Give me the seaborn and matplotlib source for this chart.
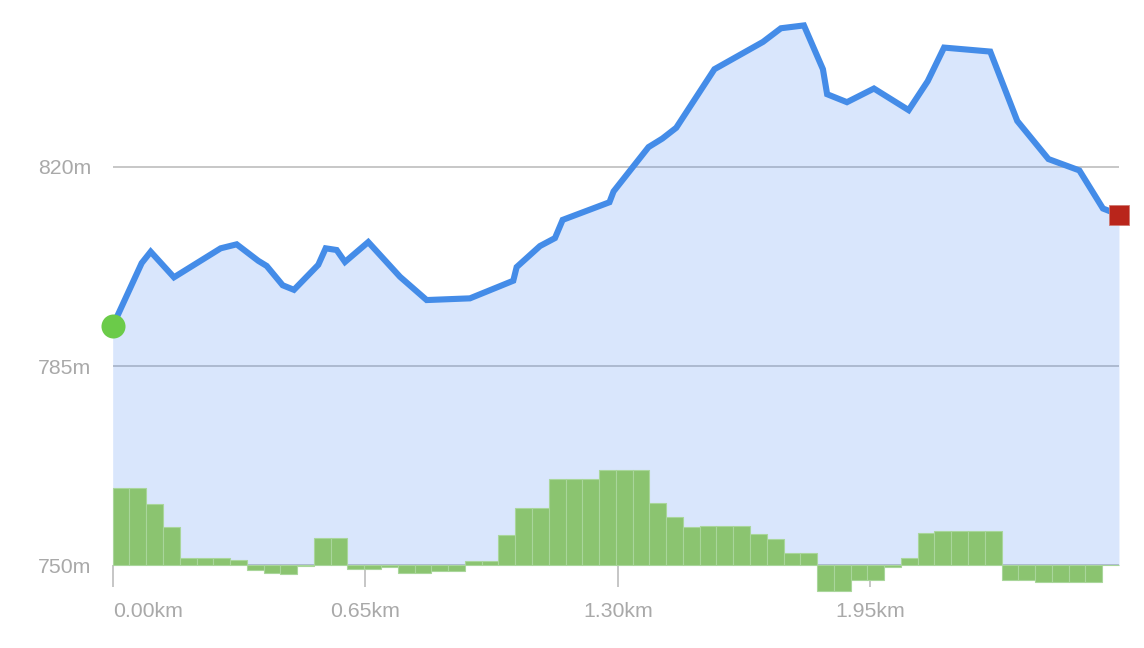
import numpy as np
import matplotlib
matplotlib.use("Agg")
import matplotlib.pyplot as plt
import seaborn as sns
import pandas as pd

# ---- data ----
dist_km = [0.000, 0.0746, 0.0978, 0.1577, 0.2779, 0.3191, 0.3747, 0.3963, 0.4375, 0.4665,
           0.5291, 0.5481, 0.5764, 0.5978, 0.6577, 0.7393, 0.8080, 0.9194, 1.0309, 1.0396,
           1.0996, 1.1382, 1.1580, 1.2784, 1.2890, 1.3790, 1.4146, 1.4503, 1.5486, 1.6735,
           1.7197, 1.7789, 1.8278, 1.8386, 1.8896, 1.9591, 2.0484, 2.0975, 2.1395, 2.2584,
           2.3279, 2.4081, 2.4877, 2.5484, 2.5896]
elev_m = [792.0, 803.1, 805.1, 800.6, 805.7, 806.4, 803.5, 802.6, 799.2, 798.4,
          802.8, 805.7, 805.4, 803.3, 806.8, 800.7, 796.6, 796.9, 800.0, 802.4,
          806.1, 807.5, 810.7, 813.8, 815.7, 823.5, 825.0, 826.9, 837.2, 842.0,
          844.4, 844.9, 837.2, 832.8, 831.4, 833.8, 830.0, 835.1, 841.0, 840.3,
          828.1, 821.4, 819.4, 812.7, 811.6]
grade = [13.5, 13.5, 10.7, 6.6, 1.2, 1.2, 1.2, 0.9, -0.9, -1.35,
         -1.6, -0.25, 4.7, 4.7, -0.65, -0.65, -0.4, -1.35, -1.35, -1.0,
         -1.0, 0.7, 0.7, 5.2, 10.0, 10.0, 15.1, 15.1, 15.1, 16.7,
         16.7, 16.7, 10.9, 8.4, 6.6, 6.9, 6.9, 6.9, 5.45, 4.6,
         2.1, 2.1, -4.6, -4.6, -2.6, -2.6, -0.3, 1.2, 5.6, 6.0,
         6.0, 6.0, 6.0, -2.6, -2.6, -3.05, -3.05, -3.05, -2.95, 0.0]
x_ticks = [0.00, 0.65, 1.30, 1.95]
x_tick_labels = ["0.00km", "0.65km", "1.30km", "1.95km"]
y_ticks = [750, 785, 820]
y_tick_labels = ["750m", "785m", "820m"]
base_m = 750
total_km = 2.5896

# ---- style ----
sns.set_style("white")
plt.rcParams["font.family"] = ["Liberation Sans", "DejaVu Sans"]
text_color = "#a9a9a9"

fig = plt.figure(figsize=(11.44, 6.48), dpi=100)
ax = fig.add_axes([0.0985, 0.0403, 0.8796, 0.9597])

df = pd.DataFrame({"dist": dist_km, "elev": elev_m})

# grid lines (under fill)
for yv in y_ticks:
    ax.axhline(yv, color="#b8b8b8", lw=1.1, zorder=0.5)

ax.fill_between(df["dist"], df["elev"], base_m, color="#4285F4", alpha=0.2, lw=0, zorder=1)

# gradient bars
n = len(grade)
w = total_km / n
centers = (np.arange(n) + 0.5) * w
ax.bar(centers, grade, width=w, bottom=base_m, color="#8BC470",
       edgecolor="#A9D69B", linewidth=0.8, zorder=2, clip_on=False)

sns.lineplot(data=df, x="dist", y="elev", ax=ax, color="#448CE8", lw=4.4,
             zorder=3, sort=False, solid_joinstyle="miter")

ax.plot(dist_km[0], elev_m[0], marker="o", markersize=17.3, color="#6BCB49",
        markeredgewidth=0, zorder=4, clip_on=False)
ax.plot(dist_km[-1], elev_m[-1], marker="s", markersize=14.4, color="#B9251B",
        markeredgecolor="#D07A72", markeredgewidth=0.6, zorder=4, clip_on=False)

ax.set_xlim(0, total_km)
ax.set_ylim(740, 849.37)

for s in ax.spines.values():
    s.set_visible(False)
ax.spines["bottom"].set_position(("data", base_m))

ax.set_xticks(x_ticks)
ax.set_xticklabels(x_tick_labels)
ax.set_yticks(y_ticks)
ax.set_yticklabels(y_tick_labels)
ax.tick_params(axis="x", bottom=True, length=15.8, width=1.2, color="#bcbcbc",
               pad=11, labelsize=15.3, labelcolor=text_color, direction="out")
ax.tick_params(axis="y", left=False, length=0, pad=15.5, labelsize=15.3,
               labelcolor=text_color)
lbls = ax.get_xticklabels()
lbls[0].set_horizontalalignment("left")
ax.set_xlabel("")
ax.set_ylabel("")
ax.grid(False)

fig.savefig("out.png", dpi=100)
